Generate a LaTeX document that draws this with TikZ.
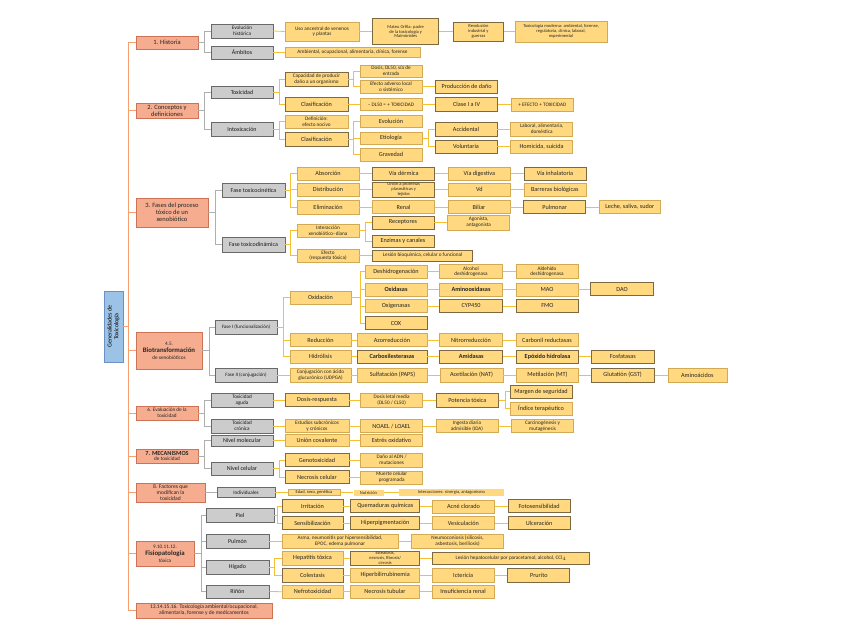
\documentclass[tikz,border=0pt]{standalone}
\usepackage{fontspec}
\setmainfont{Carlito}
\usetikzlibrary{positioning}
\definecolor{mainfill}{RGB}{246,172,142}
\definecolor{mainline}{RGB}{205,115,85}
\definecolor{subfill}{RGB}{204,204,204}
\definecolor{subline}{RGB}{105,105,105}
\definecolor{leaffill}{RGB}{255,216,128}
\definecolor{leafline}{RGB}{210,170,85}
\definecolor{leafdark}{RGB}{125,105,65}
\definecolor{rootfill}{RGB}{156,194,229}
\definecolor{rootline}{RGB}{105,145,195}
\definecolor{spinecol}{RGB}{245,160,110}
\definecolor{glinecol}{RGB}{175,175,175}
\definecolor{ylinecol}{RGB}{247,192,50}
\tikzset{
  twoline/.style={font=\fontsize{5.2}{5.7}\selectfont},
  threeline/.style={font=\fontsize{4.5}{4.9}\selectfont},
  rootbox/.style={draw=rootline, fill=rootfill, line width=0.6pt, rotate=90, align=center, inner sep=1pt, font=\fontsize{6}{6.8}\selectfont},
  mainbox/.style={draw=mainline, fill=mainfill, line width=0.6pt, align=center, inner xsep=1pt, inner ysep=0.5pt, minimum width=62pt, font=\fontsize{6.5}{7}\selectfont, text=black!85},
  subbox/.style={draw=subline, fill=subfill, line width=0.6pt, align=center, inner xsep=1pt, inner ysep=0.5pt, minimum width=62pt, minimum height=13pt, font=\fontsize{6}{6.4}\selectfont, text=black!90},
  leaf/.style={draw=leafline, fill=leaffill, line width=0.5pt, align=center, inner xsep=1pt, inner ysep=0.5pt, minimum width=62pt, minimum height=13pt, font=\fontsize{6.2}{6.6}\selectfont, text=black!85},
  darkedge/.style={draw=leafdark, line width=0.8pt},
  spine/.style={draw=spinecol, line width=1pt},
  glink/.style={draw=glinecol, line width=0.8pt},
  ylink/.style={draw=ylinecol, line width=0.8pt}
}

\begin{document}
\begin{tikzpicture}[x=1pt, y=-1pt]
  \useasboundingbox (0,0) rectangle (848,636);

  % root and main branches
  \node[rootbox, minimum width=71pt, minimum height=19pt] (root) at (113.5,326.5) {Generalidades de\\Toxicología};
  \node[mainbox, minimum height=13pt] (m1) at (167,42.5) {1. Historia};
  \node[mainbox, minimum height=15pt] (m2) at (167,110.5) {2. Conceptos y\\definiciones};
  \node[mainbox, minimum width=72pt, minimum height=29pt] (m3) at (172,212.5) {3. Fases del proceso\\tóxico de un\\xenobiótico};
  \node[mainbox, minimum width=66pt, minimum height=37pt, twoline] (m4) at (169,350.5) {4.5.\\[1.5pt]{\fontsize{6.8}{7}\selectfont\bfseries Biotransformación}\\[1pt]de xenobióticos};
  \node[mainbox, minimum height=14pt, twoline] (m5) at (167,413) {6. Evaluación de la\\toxicidad};
  \node[mainbox, minimum height=14pt, twoline] (m6) at (167,456) {{\fontsize{6.2}{6.5}\selectfont\bfseries 7. MECANISMOS}\\de toxicidad};
  \node[mainbox, minimum width=69pt, minimum height=19pt, font=\fontsize{5.6}{5.9}\selectfont] (m7) at (170.5,492.5) {8. Factores que\\modifican la\\toxicidad};
  \node[mainbox, minimum width=58pt, minimum height=25pt, twoline] (m8) at (165,553.5) {9.10.11.12.\\[1.5pt]{\fontsize{6.8}{7}\selectfont\bfseries Fisiopatología}\\[1pt]tóxica};
  \node[mainbox, minimum width=136pt, minimum height=15pt, font=\fontsize{5.5}{6}\selectfont] (m9) at (204,610.5) {13.14.15.16. Toxicología ambiental/ocupacional,\\alimentaria, forense y de medicamentos};

  % grey sub-branches
  \node[subbox, minimum height=14pt, twoline] (hist) at (242,31) {Evolución\\histórica};
  \node[subbox] (ambito) at (242,52.5) {Ámbitos};
  \node[subbox, minimum height=12pt] (toxi) at (242,92) {Toxicidad};
  \node[subbox, minimum height=14pt] (intox) at (242,129) {Intoxicación};
  \node[subbox, minimum width=63pt, minimum height=14pt] (fcin) at (253.5,190) {Fase toxicocinética};
  \node[subbox, minimum width=63pt, minimum height=15pt] (fdin) at (253.5,244.5) {Fase toxicodinámica};
  \node[subbox, minimum height=14pt, font=\fontsize{5}{5.4}\selectfont] (fase1) at (246,327) {Fase I (funcionalización)};
  \node[subbox, minimum height=14pt, font=\fontsize{5}{5.4}\selectfont] (fase2) at (246,375) {Fase II (conjugación)};
  \node[subbox, minimum height=14pt, twoline] (aguda) at (242,400) {Toxicidad\\aguda};
  \node[subbox, minimum height=14pt, twoline] (cronica) at (242,426) {Toxicidad\\crónica};
  \node[subbox, minimum height=11pt] (nmol) at (242,440.5) {Nivel molecular};
  \node[subbox, minimum height=13pt] (ncel) at (242,468.5) {Nivel celular};
  \node[subbox, minimum width=58pt, minimum height=10pt, twoline] (indiv) at (246,492.5) {Individuales};
  \node[subbox, minimum width=68pt, minimum height=14pt] (piel) at (240,515) {Piel};
  \node[subbox, minimum width=63pt, minimum height=14pt] (pulmon) at (237.5,541) {Pulmón};
  \node[subbox, minimum width=63pt, minimum height=14pt] (higado) at (237.5,567) {Hígado};
  \node[subbox, minimum width=63pt] (rinon) at (237.5,591.5) {Riñón};

  % 1. historia
  \node[leaf, twoline, minimum width=74pt, minimum height=19pt] (evo1) at (322,31.5) {Uso ancestral de venenos\\y plantas};
  \node[leaf, threeline, darkedge, minimum width=66pt, minimum height=26pt, right=13pt of evo1] (evo2) {Mateu Orfila: padre\\de la toxicología y\\Maimónides};
  \node[leaf, threeline, darkedge, minimum width=50pt, minimum height=19pt, right=14pt of evo2] (evo3) {Revolución\\industrial y\\guerras};
  \node[leaf, threeline, minimum width=92pt, minimum height=21pt, right=11pt of evo3] (evo4) {Toxicología moderna: ambiental, forense,\\regulatoria, clínica, laboral,\\experimental};
  \node[leaf, twoline, minimum width=135pt, minimum height=10pt] (amb1) at (352.5,52.5) {Ambiental, ocupacional, alimentaria, clínica, forense};

  % 2. conceptos
  \node[leaf, twoline, darkedge, minimum width=63pt, minimum height=14pt] (toxdef) at (316.5,79) {Capacidad de producir\\daño a un organismo};
  \node[leaf, darkedge, minimum width=63pt, minimum height=14pt] (toxcla) at (316.5,104.5) {Clasificación};
  \node[leaf, twoline, minimum height=12pt] (dosis) at (391,71) {Dosis, DL50, vía de\\entrada};
  \node[leaf, twoline] (efecto) at (391,86.5) {Efecto adverso local\\o sistémico};
  \node[leaf, darkedge, right=13pt of efecto] (dano) {Producción de daño};
  \node[leaf, twoline, minimum height=12pt] (dlcin) at (391,104.5) {– DL50 = + TOXICIDAD};
  \node[leaf, darkedge, minimum height=14pt, right=13pt of dlcin] (clase) {Clase I a IV};
  \node[leaf, twoline, right=13pt of clase] (efmas) {+ EFECTO + TOXICIDAD};
  \node[leaf, twoline, minimum width=63pt] (intdef) at (316.5,121.5) {Definición:\\efecto nocivo};
  \node[leaf, darkedge, minimum width=63pt, minimum height=14pt] (intcla) at (316.5,139) {Clasificación};
  \node[leaf, minimum height=12pt] (evol) at (391,121) {Evolución};
  \node[leaf, minimum height=12pt] (etio) at (391,138) {Etiología};
  \node[leaf] (grav) at (391,154.5) {Gravedad};
  \node[leaf, darkedge, minimum height=14pt] (accid) at (466,129) {Accidental};
  \node[leaf, darkedge] (volun) at (466,146.5) {Voluntaria};
  \node[leaf, twoline, minimum height=14pt, right=13pt of accid] (accid2) {Laboral, alimentaria,\\doméstica};
  \node[leaf, right=13pt of volun] (volun2) {Homicida, suicida};

  % 3. fases
  \node[leaf] (absor) at (328,173.5) {Absorción};
  \node[leaf] (distrib) at (328,189.5) {Distribución};
  \node[leaf, minimum height=14pt] (elimin) at (328,207) {Eliminación};
  \node[leaf, darkedge, right=13pt of absor] (absor1) {Vía dérmica};
  \node[leaf, right=13pt of absor1] (absor2) {Vía digestiva};
  \node[leaf, darkedge, right=13pt of absor2] (absor3) {Vía inhalatoria};
  \node[leaf, threeline, darkedge, minimum height=15pt, right=13pt of distrib] (dist1) {Unión a proteínas\\plasmáticas y\\tejidos};
  \node[leaf, right=13pt of dist1] (dist2) {Vd};
  \node[leaf, right=13pt of dist2] (dist3) {Barreras biológicas};
  \node[leaf, right=13pt of elimin] (elim1) {Renal};
  \node[leaf, right=13pt of elim1] (elim2) {Biliar};
  \node[leaf, darkedge, right=13pt of elim2] (elim3) {Pulmonar};
  \node[leaf, minimum width=61pt, right=13pt of elim3] (elim4) {Leche, saliva, sudor};
  \node[leaf, twoline] (dina1) at (328,230.5) {Interacción\\xenobiótico–diana};
  \node[leaf, twoline] (dina2) at (328,255.5) {Efecto\\(respuesta tóxica)};
  \node[leaf, darkedge] (recep) at (403,222.5) {Receptores};
  \node[leaf, darkedge, minimum height=12pt] (enzim) at (403,241) {Enzimas y canales};
  \node[leaf, twoline, minimum height=15pt, right=13pt of recep] (agon) {Agonista,\\antagonista};
  \node[leaf, twoline, darkedge, minimum width=100pt, minimum height=11pt, right=13pt of dina2] (lesion) {Lesión bioquímica, celular o funcional};

  % 4.5. biotransformacion
  \node[leaf, minimum width=61pt] (oxid) at (320.5,297.5) {Oxidación};
  \node[leaf, minimum width=61pt] (reduc) at (320.5,340) {Reducción};
  \node[leaf, minimum width=61pt] (hidro) at (320.5,356.5) {Hidrólisis};
  \node[leaf, twoline, minimum width=61pt, minimum height=14pt] (conj) at (320.5,375) {Conjugación con ácido\\glucurónico (UDPGA)};
  \node[leaf] (ox1) at (396,271.7) {Deshidrogenación};
  \node[leaf] (ox2) at (396,289.3) {\bfseries Oxidasas};
  \node[leaf] (ox3) at (396,306) {Oxigenasas};
  \node[leaf, darkedge] (ox4) at (396,323.3) {COX};
  \node[leaf, twoline, minimum width=63pt, minimum height=14pt, right=12pt of ox1] (ox1a) {Alcohol\\deshidrogenasa};
  \node[leaf, twoline, minimum height=14pt, right=13pt of ox1a] (ox1b) {Aldehído\\deshidrogenasa};
  \node[leaf, minimum width=63pt, right=12pt of ox2] (ox2a) {\bfseries Aminooxidasas};
  \node[leaf, right=13pt of ox2a] (ox2b) {MAO};
  \node[leaf, darkedge, minimum width=63pt, right=12pt of ox2b] (ox2c) {DAO};
  \node[leaf, darkedge, minimum width=63pt, right=12pt of ox3] (ox3a) {CYP450};
  \node[leaf, darkedge, right=13pt of ox3a] (ox3b) {FMO};
  \node[leaf, minimum width=70pt] (red1) at (392,340) {Azorreducción};
  \node[leaf, minimum width=63pt, right=12pt of red1] (red2) {Nitrorreducción};
  \node[leaf, right=13pt of red2] (red3) {Carbonil reductasas};
  \node[leaf, darkedge, minimum width=70pt] (hid1) at (392,356.5) {\bfseries Carboxilesterasas};
  \node[leaf, darkedge, minimum width=63pt, right=12pt of hid1] (hid2) {\bfseries Amidasas};
  \node[leaf, darkedge, right=13pt of hid2] (hid3) {\bfseries Epóxido hidrolasa};
  \node[leaf, darkedge, minimum width=63pt, right=12pt of hid3] (hid4) {Fosfatasas};
  \node[leaf, minimum width=70pt, minimum height=14pt, right=6pt of conj] (con1) {Sulfatación (PAPS)};
  \node[leaf, minimum width=63pt, minimum height=14pt, right=12pt of con1] (con2) {Acetilación (NAT)};
  \node[leaf, minimum height=14pt, right=13pt of con2] (con3) {Metilación (MT)};
  \node[leaf, darkedge, minimum width=63pt, minimum height=14pt, right=12pt of con3] (con4) {Glutatión (GST)};
  \node[leaf, minimum width=59pt, minimum height=14pt, right=13pt of con4] (con5) {Aminoácidos};

  % 6. evaluacion
  \node[leaf, darkedge, minimum width=64pt] (agu1) at (317,400) {Dosis-respuesta};
  \node[leaf, twoline, minimum height=14pt, right=11pt of agu1] (agu2) {Dosis letal media\\(DL50 / CL50)};
  \node[leaf, darkedge, minimum height=14pt, right=13pt of agu2] (agu3) {Potencia tóxica};
  \node[leaf, darkedge] (agu4) at (541,391.7) {Margen de seguridad};
  \node[leaf] (agu5) at (541,408.3) {Índice terapéutico};
  \node[leaf, twoline, minimum width=64pt] (cro1) at (317,426) {Estudios subcrónicos\\y crónicos};
  \node[leaf, right=11pt of cro1] (cro2) {NOAEL / LOAEL};
  \node[leaf, twoline, right=13pt of cro2] (cro3) {Ingesta diaria\\admisible (IDA)};
  \node[leaf, twoline, right=13pt of cro3] (cro4) {Carcinogénesis y\\mutagénesis};

  % 7. mecanismos
  \node[leaf, minimum width=64pt, minimum height=12pt] (mol1) at (317,440.5) {Unión covalente};
  \node[leaf, minimum height=12pt, right=11pt of mol1] (mol2) {Estrés oxidativo};
  \node[leaf, darkedge, minimum width=64pt] (cel1) at (317,460) {Genotoxicidad};
  \node[leaf, darkedge, minimum width=64pt] (cel2) at (317,477.3) {Necrosis celular};
  \node[leaf, twoline, minimum height=14pt, right=11pt of cel1] (cel1a) {Daño al ADN /\\mutaciones};
  \node[leaf, twoline, right=11pt of cel2] (cel2a) {Muerte celular\\programada};

  % 8. factores
  \node[leaf, threeline, minimum width=52pt, minimum height=6pt] (fac1) at (314,492.5) {Edad, sexo, genética};
  \node[leaf, threeline, draw=none, minimum width=30pt, minimum height=6pt, right=13pt of fac1] (fac2) {Nutrición};
  \node[leaf, threeline, draw=none, minimum width=105pt, minimum height=7pt, right=15pt of fac2] (fac3) {Interacciones: sinergia, antagonismo};

  % 9.-12. fisiopatologia
  \node[leaf, darkedge, minimum width=61pt] (piel1) at (312.5,506.3) {Irritación};
  \node[leaf, darkedge, minimum width=61pt] (piel2) at (312.5,523) {Sensibilización};
  \node[leaf, darkedge, minimum width=69pt, right=7pt of piel1] (piel1a) {Quemaduras químicas};
  \node[leaf, right=12pt of piel1a] (piel1b) {Acné clorado};
  \node[leaf, darkedge, right=13pt of piel1b] (piel1c) {Fotosensibilidad};
  \node[leaf, darkedge, minimum width=69pt, right=7pt of piel2] (piel2a) {Hiperpigmentación};
  \node[leaf, right=12pt of piel2a] (piel2b) {Vesiculación};
  \node[leaf, darkedge, right=13pt of piel2b] (piel2c) {Ulceración};
  \node[leaf, twoline, minimum width=116pt, minimum height=14pt] (pul1) at (340,541) {Asma, neumonitis por hipersensibilidad,\\EPOC, edema pulmonar};
  \node[leaf, twoline, minimum width=92pt, minimum height=14pt, right=13pt of pul1] (pul2) {Neumoconiosis (silicosis,\\asbestosis, beriliosis)};
  \node[leaf, minimum width=61pt, minimum height=14pt] (hig1) at (312.5,558) {Hepatitis tóxica};
  \node[leaf, darkedge, minimum width=61pt, minimum height=14pt] (hig2) at (312.5,575.3) {Colestasis};
  \node[leaf, threeline, darkedge, minimum width=69pt, minimum height=14pt, right=7pt of hig1] (hig1a) {Esteatosis,\\necrosis, fibrosis/\\cirrosis};
  \node[leaf, twoline, darkedge, minimum width=157pt, minimum height=12pt, right=12pt of hig1a] (hig1b) {Lesión hepatocelular por paracetamol, alcohol, CCl$_4$};
  \node[leaf, minimum width=69pt, minimum height=14pt, right=7pt of hig2] (hig2a) {Hiperbilirrubinemia};
  \node[leaf, minimum height=14pt, right=12pt of hig2a] (hig2b) {Ictericia};
  \node[leaf, darkedge, minimum height=14pt, right=13pt of hig2b] (hig2c) {Prurito};
  \node[leaf, minimum width=61pt] (rin1) at (312.5,591.7) {Nefrotoxicidad};
  \node[leaf, minimum width=69pt, right=7pt of rin1] (rin1a) {Necrosis tubular};
  \node[leaf, right=12pt of rin1a] (rin1b) {Insuficiencia renal};

  % spine
  \coordinate (sp) at ([xshift=-7pt]m1.west);
  \draw[spine] (sp) -- ([xshift=-7pt]m9.west);
  \draw[spine] (root.south) -- (sp |- root.south);
  \foreach \m in {m1,m2,m3,m4,m5,m6,m7,m8,m9}
    \draw[spine] ([xshift=-7pt]\m.west) -- (\m.west);

  % grey connectors
  \foreach \g in {hist,ambito} \draw[glink] (m1.east) -- ++(6,0) |- (\g.west);
  \foreach \g in {toxi,intox} \draw[glink] (m2.east) -- ++(6,0) |- (\g.west);
  \foreach \g in {fcin,fdin} \draw[glink] (m3.east) -- ++(7,0) |- (\g.west);
  \foreach \g in {fase1,fase2} \draw[glink] (m4.east) -- ++(7,0) |- (\g.west);
  \foreach \g in {aguda,cronica} \draw[glink] (m5.east) -- ++(6,0) |- (\g.west);
  \foreach \g in {nmol,ncel} \draw[glink] (m6.east) -- ++(6,0) |- (\g.west);
  \draw[glink] (m7.east) -- (indiv.west);
  \foreach \g in {piel,pulmon,higado,rinon} \draw[glink] (m8.east) -- ++(7,0) |- (\g.west);

  % yellow brackets
  \foreach \l in {toxdef,toxcla} \draw[ylink] (toxi.east) -- ++(6,0) |- (\l.west);
  \foreach \l in {dosis,efecto} \draw[ylink] (toxdef.east) -- ++(5,0) |- (\l.west);
  \foreach \l in {intdef,intcla} \draw[ylink] (intox.east) -- ++(6,0) |- (\l.west);
  \foreach \l in {evol,etio,grav} \draw[ylink] (intcla.east) -- ++(5,0) |- (\l.west);
  \foreach \l in {accid,volun} \draw[ylink] (etio.east) -- ++(6,0) |- (\l.west);
  \foreach \l in {absor,distrib,elimin} \draw[ylink] (fcin.east) -- ++(5,0) |- (\l.west);
  \foreach \l in {dina1,dina2} \draw[ylink] (fdin.east) -- ++(5,0) |- (\l.west);
  \foreach \l in {recep,enzim} \draw[ylink] (dina1.east) -- ++(6,0) |- (\l.west);
  \foreach \l in {oxid,reduc,hidro} \draw[ylink] (fase1.east) -- ++(6,0) |- (\l.west);
  \foreach \l in {ox1,ox2,ox3,ox4} \draw[ylink] (oxid.east) -- ++(9,0) |- (\l.west);
  \foreach \l in {agu4,agu5} \draw[ylink] (agu3.east) -- ++(7,0) |- (\l.west);
  \foreach \l in {cel1,cel2} \draw[ylink] (ncel.east) -- ++(6,0) |- (\l.west);
  \foreach \l in {piel1,piel2} \draw[ylink] (piel.east) -- ++(3.5,0) |- (\l.west);
  \foreach \l in {hig1,hig2} \draw[ylink] (higado.east) -- ++(5,0) |- (\l.west);

  % straight links
  \foreach \a/\b in {hist/evo1,evo1/evo2,evo2/evo3,evo3/evo4,ambito/amb1,
      efecto/dano,dlcin/clase,clase/efmas,toxcla/dlcin,accid/accid2,volun/volun2,
      absor/absor1,absor1/absor2,absor2/absor3,distrib/dist1,dist1/dist2,dist2/dist3,
      elimin/elim1,elim1/elim2,elim2/elim3,elim3/elim4,recep/agon,dina2/lesion,
      ox1/ox1a,ox1a/ox1b,ox2/ox2a,ox2a/ox2b,ox2b/ox2c,ox3/ox3a,ox3a/ox3b,
      reduc/red1,red1/red2,red2/red3,hidro/hid1,hid1/hid2,hid2/hid3,hid3/hid4,
      fase2/conj,conj/con1,con1/con2,con2/con3,con3/con4,con4/con5,
      aguda/agu1,agu1/agu2,agu2/agu3,cronica/cro1,cro1/cro2,cro2/cro3,cro3/cro4,
      nmol/mol1,mol1/mol2,cel1/cel1a,cel2/cel2a,indiv/fac1,fac1/fac2,fac2/fac3,
      piel1/piel1a,piel1a/piel1b,piel1b/piel1c,piel2/piel2a,piel2a/piel2b,piel2b/piel2c,
      pulmon/pul1,pul1/pul2,hig1/hig1a,hig1a/hig1b,hig2/hig2a,hig2a/hig2b,hig2b/hig2c,
      rinon/rin1,rin1/rin1a,rin1a/rin1b}
    \draw[ylink] (\a.east) -- (\b.west);
\end{tikzpicture}
\end{document}
